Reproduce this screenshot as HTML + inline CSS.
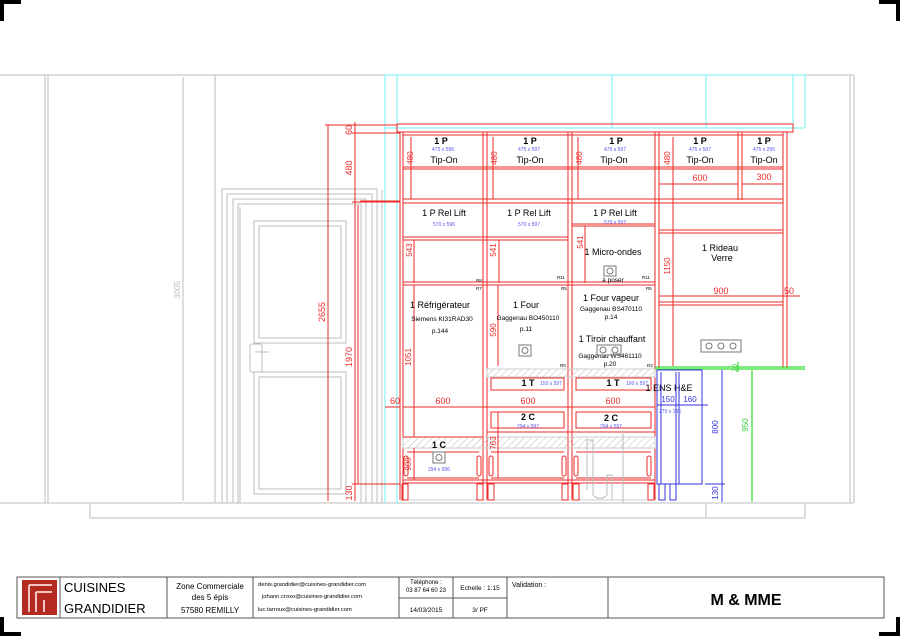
<!DOCTYPE html>
<html><head><meta charset="utf-8"><style>
html,body{margin:0;padding:0;background:#fff;}
svg{display:block;font-family:"Liberation Sans",Arial,sans-serif;}
.g{stroke:#bdbdbd;fill:none;stroke-width:1}
.r{stroke:#ee2a2a;fill:none;stroke-width:1}
.c{stroke:#6ff0f0;fill:none;stroke-width:1}
.b{stroke:#3333dd;fill:none;stroke-width:1}
.gr{stroke:#33dd33;fill:none;stroke-width:1.2}
.t{font-size:9px;fill:#000}
.ts{font-size:6.5px;fill:#000}
.bl{font-size:5px;fill:#5555ee}
.rd{font-size:9px;fill:#ee2a2a}
</style></head><body>
<svg width="900" height="636" viewBox="0 0 900 636">
<defs>
<pattern id="h" width="5" height="5" patternUnits="userSpaceOnUse" patternTransform="rotate(45)"><line x1="0" y1="0" x2="0" y2="5" stroke="#bbb" stroke-width="1"/></pattern>
</defs>
<!-- corner marks -->
<path d="M2 21 V2 H21" stroke="#000" stroke-width="4" fill="none"/>
<path d="M898 21 V2 H879" stroke="#000" stroke-width="4" fill="none"/>
<path d="M2 617 V634 H21" stroke="#000" stroke-width="4" fill="none"/>
<path d="M898 617 V634 H879" stroke="#000" stroke-width="4" fill="none"/>

<!-- walls -->
<line class="g" x1="0" y1="75" x2="854" y2="75"/>
<line class="g" x1="0" y1="503" x2="854" y2="503" stroke-width="1.5"/>
<line class="g" x1="45" y1="75" x2="45" y2="503"/><line class="g" x1="48" y1="75" x2="48" y2="503"/>
<line class="g" x1="215" y1="75" x2="215" y2="503"/>
<line class="g" x1="850" y1="75" x2="850" y2="503"/><line class="g" x1="854" y1="75" x2="854" y2="503"/>
<line class="g" x1="183" y1="77" x2="183" y2="501"/>
<text x="180" y="290" font-size="8" fill="#bbb" transform="rotate(-90 180 290)" text-anchor="middle">3005</text>
<path class="g" d="M90 503 V518 H805 V503 M706 503 V518"/>

<!-- door -->
<rect class="g" x="222" y="189" width="155" height="314"/>
<rect class="g" x="227" y="194" width="145" height="309"/>
<rect class="g" x="233" y="199" width="133" height="304"/>
<rect class="g" x="238" y="204" width="123" height="299"/>
<line class="g" x1="240" y1="207" x2="240" y2="503" stroke-width="2"/>
<rect class="g" x="254" y="221" width="92" height="122"/>
<rect class="g" x="259" y="226" width="82" height="112"/>
<rect class="g" x="254" y="372" width="92" height="122"/>
<rect class="g" x="259" y="377" width="82" height="112"/>
<rect class="g" x="250" y="344" width="12" height="28" rx="2"/>
<line class="g" x1="255" y1="352" x2="269" y2="352" stroke-width="2"/>
<line class="g" x1="382" y1="190" x2="382" y2="503"/>

<!-- cyan -->
<rect class="c" x="385" y="75" width="420" height="53"/>
<line class="c" x1="612" y1="75" x2="612" y2="128"/>
<line class="c" x1="706" y1="75" x2="706" y2="128"/>
<line class="c" x1="793" y1="75" x2="793" y2="128"/>
<line class="c" x1="385" y1="128" x2="385" y2="503"/>
<line class="c" x1="397" y1="75" x2="397" y2="503"/>

<!-- left red dims -->
<g class="r">
<line x1="328" y1="125" x2="328" y2="501"/>
<line x1="355" y1="122" x2="355" y2="501"/>
<line x1="325" y1="125" x2="397" y2="125"/>
<line x1="352" y1="133" x2="400" y2="133"/>
<line x1="352" y1="202" x2="400" y2="202"/>
<line x1="352" y1="484" x2="400" y2="484"/>
<line x1="358" y1="205" x2="358" y2="484"/>
<line x1="360" y1="201" x2="400" y2="201"/>
<line x1="385" y1="407" x2="400" y2="407"/>
</g>
<g class="rd" font-size="8">
<text transform="rotate(-90 352 130)" x="352" y="130" text-anchor="middle">60</text>
<text transform="rotate(-90 352 168)" x="352" y="168" text-anchor="middle">480</text>
<text transform="rotate(-90 325 312)" x="325" y="312" text-anchor="middle">2655</text>
<text transform="rotate(-90 352 357)" x="352" y="357" text-anchor="middle">1970</text>
<text transform="rotate(-90 352 493)" x="352" y="493" text-anchor="middle">130</text>
<text x="395" y="404" text-anchor="middle">60</text>
</g>

<!-- cabinet structure -->
<g class="r">
<rect x="397" y="124" width="396" height="8"/>
<line x1="400" y1="132" x2="400" y2="500"/><line x1="403" y1="132" x2="403" y2="500"/>
<line x1="483" y1="132" x2="483" y2="500"/><line x1="487" y1="132" x2="487" y2="500"/>
<line x1="568" y1="132" x2="568" y2="500"/><line x1="572" y1="132" x2="572" y2="500"/>
<line x1="655" y1="132" x2="655" y2="500"/><line x1="659" y1="132" x2="659" y2="368"/>
<line x1="738" y1="132" x2="738" y2="200"/><line x1="742" y1="132" x2="742" y2="200"/>
<line x1="783" y1="132" x2="783" y2="368"/><line x1="787" y1="132" x2="787" y2="368"/>
<line x1="403" y1="135" x2="783" y2="135"/>
<line x1="403" y1="167" x2="783" y2="167"/><line x1="403" y1="169" x2="783" y2="169"/>
<line x1="403" y1="199" x2="783" y2="199"/><line x1="403" y1="203" x2="783" y2="203"/>
<line x1="403" y1="237" x2="568" y2="237"/><line x1="403" y1="240" x2="568" y2="240"/>
<line x1="572" y1="224" x2="655" y2="224"/><line x1="572" y1="226" x2="655" y2="226"/>
<line x1="403" y1="282" x2="655" y2="282"/><line x1="403" y1="285" x2="655" y2="285"/>
<line x1="659" y1="230" x2="783" y2="230"/><line x1="659" y1="233" x2="783" y2="233"/>
<line x1="659" y1="302" x2="783" y2="302"/><line x1="659" y1="305" x2="783" y2="305"/>
<line x1="403" y1="483" x2="655" y2="483"/>
<line x1="403" y1="480" x2="655" y2="480"/>
<line x1="400" y1="500" x2="655" y2="500" stroke="#ccc"/>
</g>
<!-- hatch strips -->
<rect x="487" y="369" width="168" height="8" fill="url(#h)" stroke="#ccc"/>
<rect x="403" y="437" width="252" height="11" fill="url(#h)" stroke="#ccc"/>
<g class="r">
<line x1="403" y1="437" x2="483" y2="437"/>
<rect x="491" y="378" width="73" height="12"/><rect x="576" y="378" width="75" height="12"/>
<rect x="491" y="412" width="73" height="16"/><rect x="576" y="412" width="75" height="16"/>
<line x1="487" y1="432" x2="655" y2="432"/>
<line x1="407" y1="452" x2="479" y2="452"/><line x1="491" y1="452" x2="564" y2="452"/><line x1="576" y1="452" x2="651" y2="452"/>
<line x1="407" y1="478" x2="479" y2="478"/><line x1="491" y1="478" x2="564" y2="478"/><line x1="576" y1="478" x2="651" y2="478"/>
</g>
<!-- feet -->
<g class="r">
<rect x="402" y="484" width="6" height="16"/><rect x="477" y="484" width="6" height="16"/>
<rect x="488" y="484" width="6" height="16"/><rect x="562" y="484" width="6" height="16"/>
<rect x="573" y="484" width="6" height="16"/><rect x="648" y="484" width="6" height="16"/>
<rect x="404" y="456" width="4" height="20" rx="2"/><rect x="477" y="456" width="4" height="20" rx="2"/>
<rect x="489" y="456" width="4" height="20" rx="2"/><rect x="562" y="456" width="4" height="20" rx="2"/>
<rect x="574" y="456" width="4" height="20" rx="2"/><rect x="647" y="456" width="4" height="20" rx="2"/>
</g>
<!-- sink trap -->
<path class="g" d="M587 490 V440 H593 V495 Q600 502 607 495 V475 H612 V500" stroke="#ccc"/>
<line class="g" x1="623" y1="430" x2="623" y2="503"/>

<!-- interior dims -->
<g class="r">
<line x1="411" y1="137" x2="411" y2="199"/><line x1="493" y1="137" x2="493" y2="199"/><line x1="578" y1="137" x2="578" y2="199"/><line x1="673" y1="137" x2="673" y2="203"/>
<line x1="414" y1="240" x2="414" y2="283"/><line x1="499" y1="240" x2="499" y2="283"/><line x1="585" y1="226" x2="585" y2="283"/>
<line x1="414" y1="285" x2="414" y2="437"/><line x1="498" y1="285" x2="498" y2="366"/>
<line x1="414" y1="448" x2="414" y2="480"/><line x1="498" y1="412" x2="498" y2="478"/>
<line x1="673" y1="203" x2="673" y2="366"/>
<line x1="403" y1="407" x2="655" y2="407"/>
<line x1="659" y1="184" x2="738" y2="184"/><line x1="742" y1="184" x2="783" y2="184"/>
<line x1="659" y1="296" x2="783" y2="296"/><line x1="783" y1="296" x2="800" y2="296"/>
</g>
<g class="rd">
<text transform="rotate(-90 413 158)" x="413" y="158" text-anchor="middle" font-size="8">480</text>
<text transform="rotate(-90 497 158)" x="497" y="158" text-anchor="middle" font-size="8">480</text>
<text transform="rotate(-90 582 158)" x="582" y="158" text-anchor="middle" font-size="8">480</text>
<text transform="rotate(-90 670 158)" x="670" y="158" text-anchor="middle" font-size="8">480</text>
<text transform="rotate(-90 412 250)" x="412" y="250" text-anchor="middle" font-size="8">543</text>
<text transform="rotate(-90 496 250)" x="496" y="250" text-anchor="middle" font-size="8">541</text>
<text transform="rotate(-90 583 242)" x="583" y="242" text-anchor="middle" font-size="8">541</text>
<text transform="rotate(-90 496 330)" x="496" y="330" text-anchor="middle" font-size="8">590</text>
<text transform="rotate(-90 411 357)" x="411" y="357" text-anchor="middle" font-size="8">1051</text>
<text transform="rotate(-90 411 464)" x="411" y="464" text-anchor="middle" font-size="8">900</text>
<text transform="rotate(-90 496 443)" x="496" y="443" text-anchor="middle" font-size="8">763</text>
<text transform="rotate(-90 670 266)" x="670" y="266" text-anchor="middle" font-size="8">1150</text>
<text x="443" y="404" text-anchor="middle">600</text>
<text x="528" y="404" text-anchor="middle">600</text>
<text x="613" y="404" text-anchor="middle">600</text>
<text x="700" y="181" text-anchor="middle">600</text>
<text x="764" y="180" text-anchor="middle">300</text>
<text x="721" y="294" text-anchor="middle">900</text>
<text x="789" y="294" text-anchor="middle">50</text>
</g>

<!-- labels -->
<g class="t" text-anchor="middle" font-weight="bold" font-size="8.5">
<text x="441" y="144">1 P</text><text x="530" y="144">1 P</text><text x="616" y="144">1 P</text><text x="700" y="144">1 P</text><text x="764" y="144">1 P</text>
</g>
<g class="t" text-anchor="middle" font-size="8.5">
<text x="444" y="163">Tip-On</text><text x="530" y="163">Tip-On</text><text x="614" y="163">Tip-On</text><text x="700" y="163">Tip-On</text><text x="764" y="163">Tip-On</text>
<text x="444" y="216">1 P Rel Lift</text><text x="529" y="216">1 P Rel Lift</text><text x="615" y="216">1 P Rel Lift</text>
<text x="613" y="255">1 Micro-ondes</text>
<text x="720" y="251">1 Rideau</text><text x="722" y="261">Verre</text>
<text x="440" y="308">1 Réfrigérateur</text>
<text x="526" y="308">1 Four</text>
<text x="611" y="301">1 Four vapeur</text>
<text x="612" y="342">1 Tiroir chauffant</text>
<text x="528" y="386" font-weight="bold">1 T</text><text x="613" y="386" font-weight="bold">1 T</text>
<text x="528" y="420" font-weight="bold">2 C</text><text x="611" y="421" font-weight="bold">2 C</text>
<text x="439" y="448" font-weight="bold">1 C</text>
<text x="669" y="391">1 ENS H&amp;E</text>
</g>
<g class="ts" text-anchor="middle">
<text x="442" y="321">Siemens KI31RAD30</text><text x="440" y="333">p.144</text>
<text x="528" y="320">Gaggenau BO450110</text><text x="526" y="331">p.11</text>
<text x="611" y="311">Gaggenau BS470110</text><text x="611" y="319">p.14</text>
<text x="610" y="358">Gaggenau WS461110</text><text x="610" y="366">p.20</text>
<text x="613" y="282">à poser</text>
</g>
<g font-size="4.5" fill="#000">
<text x="476" y="282">R8</text><text x="476" y="290">R7</text>
<text x="557" y="279">R11</text><text x="561" y="290">R5</text>
<text x="642" y="279">R11</text><text x="646" y="290">R5</text>
<text x="560" y="367">R0</text><text x="647" y="367">R3</text>
</g>
<g class="bl" text-anchor="middle">
<text x="443" y="151">475 x 596</text><text x="529" y="151">475 x 597</text><text x="615" y="151">475 x 597</text><text x="700" y="151">475 x 597</text><text x="764" y="151">475 x 295</text>
<text x="444" y="226">570 x 596</text><text x="529" y="226">570 x 597</text><text x="615" y="224">570 x 597</text>
<text x="551" y="385">150 x 597</text><text x="637" y="385">190 x 597</text>
<text x="528" y="428">294 x 597</text><text x="611" y="428">294 x 597</text>
<text x="439" y="471">294 x 596</text><text x="670" y="413">270 x 145</text>
</g>
<!-- sockets -->
<g fill="none" stroke="#777">
<rect x="433" y="452" width="12" height="11"/><circle cx="439" cy="457.5" r="3"/>
<rect x="519" y="345" width="12" height="11"/><circle cx="525" cy="350.5" r="3"/>
<rect x="604" y="266" width="12" height="10"/><circle cx="610" cy="271" r="3"/>
<rect x="597" y="345" width="24" height="10"/><circle cx="603" cy="350" r="3"/><circle cx="615" cy="350" r="3"/>
<rect x="701" y="340" width="40" height="12"/><circle cx="709" cy="346" r="3"/><circle cx="721" cy="346" r="3"/><circle cx="733" cy="346" r="3"/>
</g>

<!-- green counter -->
<g class="gr">
<line x1="655" y1="367" x2="805" y2="367"/><line x1="655" y1="369" x2="805" y2="369"/>
<line x1="752" y1="370" x2="752" y2="502"/>
<line x1="738" y1="362" x2="738" y2="372"/>
</g>
<text transform="rotate(-90 748 425)" x="748" y="425" font-size="8" fill="#33cc33" text-anchor="middle">950</text>
<text transform="rotate(-90 737 368)" x="737" y="368" font-size="7" fill="#33cc33" text-anchor="middle">20</text>

<!-- blue ENS -->
<g class="b">
<rect x="657" y="370" width="45" height="114"/>
<line x1="661" y1="372" x2="661" y2="484"/><line x1="676" y1="372" x2="676" y2="484"/><line x1="679" y1="372" x2="679" y2="484"/>
<rect x="659" y="484" width="6" height="16"/><rect x="670" y="484" width="6" height="16"/>
<line x1="657" y1="405" x2="708" y2="405"/>
<line x1="722" y1="370" x2="722" y2="502"/>
<line x1="705" y1="484" x2="725" y2="484"/>
</g>
<g font-size="8" fill="#3333dd" text-anchor="middle">
<text x="668" y="402">150</text><text x="690" y="402">160</text>
<text transform="rotate(-90 718 427)" x="718" y="427">800</text>
<text transform="rotate(-90 718 493)" x="718" y="493">130</text>
</g>

<!-- title block -->
<g stroke="#555" fill="none" stroke-width="1">
<rect x="17" y="577" width="867" height="41"/>
<line x1="60" y1="577" x2="60" y2="618"/><line x1="167" y1="577" x2="167" y2="618"/>
<line x1="253" y1="577" x2="253" y2="618"/><line x1="399" y1="577" x2="399" y2="618"/>
<line x1="453" y1="577" x2="453" y2="618"/><line x1="507" y1="577" x2="507" y2="618"/>
<line x1="608" y1="577" x2="608" y2="618"/>
<line x1="399" y1="598" x2="507" y2="598"/>
</g>
<rect x="22" y="580" width="35" height="35" fill="#b42a20"/>
<path d="M29 585 V612 M29 585 H52 M36 592 V612 M36 592 H52 M44 600 V612" stroke="#f2c6c0" stroke-width="2" fill="none"/>
<g fill="#000">
<text x="64" y="592" font-size="13">CUISINES</text>
<text x="64" y="613" font-size="13">GRANDIDIER</text>
<text x="210" y="589" font-size="8" text-anchor="middle">Zone Commerciale</text>
<text x="210" y="600" font-size="8" text-anchor="middle">des 5 épis</text>
<text x="210" y="613" font-size="8" text-anchor="middle">57580 REMILLY</text>
<text x="258" y="586" font-size="5.8">denis.grandidier@cuisines-grandidier.com</text>
<text x="262" y="598" font-size="5.8">johann.croxo@cuisines-grandidier.com</text>
<text x="258" y="611" font-size="5.8">luc.tarroux@cuisines-grandidier.com</text>
<text x="426" y="584" font-size="6" text-anchor="middle">Téléphone :</text>
<text x="426" y="592" font-size="6" text-anchor="middle">03 87 64 60 23</text>
<text x="426" y="612" font-size="6.5" text-anchor="middle">14/03/2015</text>
<text x="480" y="590" font-size="6.5" text-anchor="middle">Echelle : 1:15</text>
<text x="480" y="612" font-size="6.5" text-anchor="middle">3/ PF</text>
<text x="512" y="587" font-size="7">Validation :</text>
<text x="746" y="605" font-size="16" font-weight="bold" text-anchor="middle">M &amp; MME</text>
</g>
</svg>
</body></html>
